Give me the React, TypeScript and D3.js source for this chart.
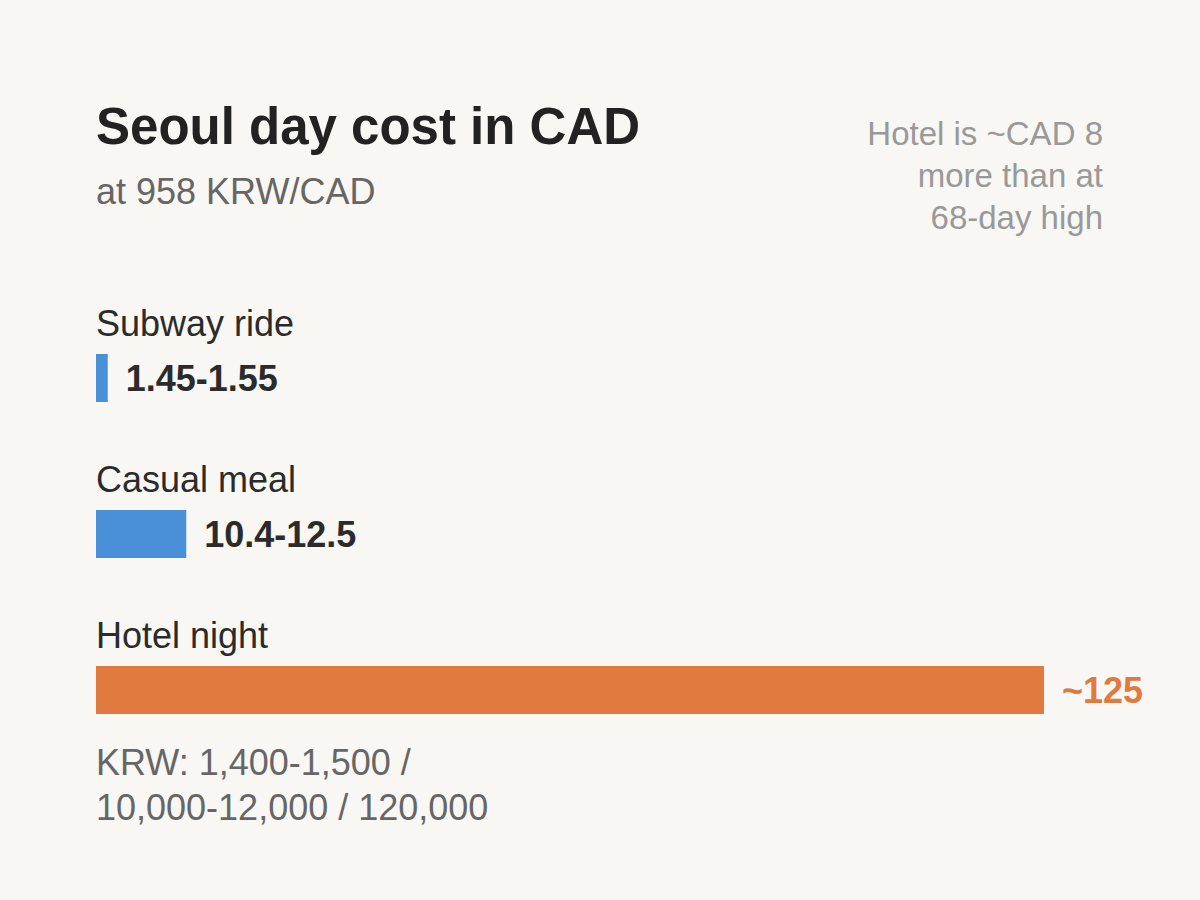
import { useEffect } from 'react';
import * as d3 from 'd3';

// chart values
const categories = ['Subway ride', 'Casual meal', 'Hotel night'];
const barValues = [1.55, 11.9, 125];
const valueLabels = ['1.45-1.55', '10.4-12.5', '~125'];
const barColors = ['#4a90d9', '#4a90d9', '#e07a3f'];
const labelColors = ['#2b2b2b', '#2b2b2b', '#e07a3f'];
const noteLines = ['Hotel is ~CAD 8', 'more than at', '68-day high'];
const footLines = ['KRW: 1,400-1,500 /', '10,000-12,000 / 120,000'];

const W = 1200;
const H = 900;
const FONT = '"Liberation Sans", Arial, sans-serif';

export default function App() {
    useEffect(() => {
        document.body.style.margin = '0';
    }, []);

    const x = d3.scaleLinear().domain([0, 125]).range([96, 1044]);
    const rowY = d3.scalePoint<string>().domain(categories).range([354, 666]);
    const barH = 48;

    return (
        <svg width={W} height={H} style={{ display: 'block', fontFamily: FONT }}>
            <rect width={W} height={H} fill="#f8f7f4" />

            <text x={96} y={144} fontSize={51} fontWeight="bold" fill="#222">
                Seoul day cost in CAD
            </text>
            <text x={96} y={204} fontSize={36} fill="#666">
                at 958 KRW/CAD
            </text>

            {noteLines.map((t, i) => (
                <text key={t} x={1103} y={145 + i * 42} fontSize={33} fill="#999" textAnchor="end">
                    {t}
                </text>
            ))}

            {categories.map((c, i) => {
                const top = rowY(c) ?? 0;
                const end = x(barValues[i]);
                return (
                    <g key={c}>
                        <text x={96} y={top - 18} fontSize={36} fill="#2b2b2b">
                            {c}
                        </text>
                        <rect x={x(0)} y={top} width={end - x(0)} height={barH} fill={barColors[i]} />
                        <text
                            x={end + 18}
                            y={top + barH / 2}
                            dy="0.35em"
                            fontSize={36}
                            fontWeight="bold"
                            fill={labelColors[i]}
                        >
                            {valueLabels[i]}
                        </text>
                    </g>
                );
            })}

            {footLines.map((t, i) => (
                <text key={t} x={96} y={775} fontSize={36} fill="#666" dy={i * 45}>
                    {t}
                </text>
            ))}
        </svg>
    );
}
